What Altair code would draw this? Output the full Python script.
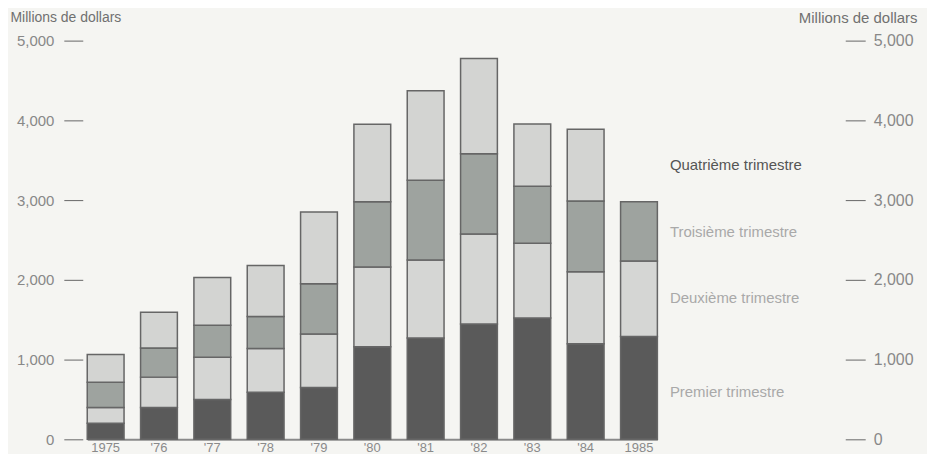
import altair as alt
import pandas as pd

years = ["1975", "1976", "1977", "1978", "1979", "1980", "1981", "1982", "1983", "1984", "1985"]
year_labels = ["1975", "'76", "'77", "'78", "'79", "'80", "'81", "'82", "'83", "'84", "1985"]
quarters = ["Premier trimestre", "Deuxième trimestre", "Troisième trimestre", "Quatrième trimestre"]
q1 = [200, 400, 500, 590, 650, 1160, 1270, 1445, 1520, 1200, 1290]
q2 = [200, 380, 530, 550, 670, 1000, 980, 1130, 940, 900, 945]
q3 = [315, 365, 400, 400, 630, 820, 1000, 1005, 715, 890, 745]
q4 = [350, 450, 600, 640, 900, 970, 1120, 1195, 780, 900, 0]
label_values = [590, 1770, 2600, 3440]
tick_values = [0, 1000, 2000, 3000, 4000, 5000]

rows = []
for qi, (qname, series) in enumerate(zip(quarters, [q1, q2, q3, q4])):
    for lab, v in zip(year_labels, series):
        if v > 0:
            rows.append({"year": lab, "quarter": qname, "qi": qi, "value": v})
bars_df = pd.DataFrame(rows)
labels_df = pd.DataFrame({"year": [year_labels[-1]] * 4, "quarter": quarters, "pos": label_values})

FONT = "Liberation Sans"
xscale = alt.Scale(domain=year_labels, range=[23.5, 595.5], paddingInner=0.31, paddingOuter=0)
yscale = alt.Scale(domain=[0, 5000], nice=False)

bars = alt.Chart(bars_df).mark_bar(stroke="#666666", strokeWidth=1.5).encode(
    x=alt.X("year:N", sort=year_labels, scale=xscale,
            axis=alt.Axis(title=None, labelAngle=0, ticks=False, domainColor="#8a8a8a",
                          domainWidth=2, labelColor="#8a8a8a", labelFont=FONT,
                          labelFontSize=13, labelPadding=2)),
    y=alt.Y("value:Q", stack="zero", scale=yscale,
            axis=alt.Axis(orient="left", values=tick_values, format=",.0f", offset=-19,
                          tickSize=19, domain=False, labelPadding=10, grid=False,
                          tickColor="#666666", tickWidth=1, labelColor="#888888",
                          labelFont=FONT, labelFontSize=15,
                          title="Millions de dollars", titleAngle=0, titleAlign="left",
                          titleBaseline="middle", titleX=-73, titleY=-23,
                          titleFont=FONT, titleFontSize=14, titleFontWeight="normal",
                          titleColor="#707070")),
    color=alt.Color("quarter:N", scale=alt.Scale(domain=quarters,
                    range=["#5a5a5a", "#d5d6d4", "#9ea39f", "#d3d4d2"]), legend=None),
    order=alt.Order("qi:Q", sort="ascending"),
)

texts = alt.Chart(labels_df).mark_text(align="left", baseline="middle", dx=31,
                                       font=FONT, fontSize=15).encode(
    x=alt.X("year:N", sort=year_labels, scale=xscale),
    y=alt.Y("pos:Q", scale=yscale,
            axis=alt.Axis(orient="right", values=tick_values, format=",.0f", offset=-20,
                          tickSize=20, domain=False, labelPadding=8, grid=False,
                          tickColor="#666666", tickWidth=1, labelColor="#888888",
                          labelFont=FONT, labelFontSize=16,
                          title="Millions de dollars", titleAngle=0, titleAlign="right",
                          titleBaseline="middle", titleX=72, titleY=-23,
                          titleFont=FONT, titleFontSize=15, titleFontWeight="normal",
                          titleColor="#707070")),
    text="quarter:N",
    color=alt.condition(alt.datum.quarter == "Quatrième trimestre",
                        alt.value("#555555"), alt.value("#a9a9a9")),
)

chart = alt.layer(bars, texts).resolve_scale(y="shared").resolve_axis(y="independent").properties(
    width=804, height=400,
    autosize=alt.AutoSizeParams(type="none"),
    padding={"left": 56, "top": 32, "right": 62, "bottom": 14},
    background="#f5f5f2",
).configure_view(stroke=None)

chart.save("out.html", embed_options={"renderer": "svg", "actions": False})
